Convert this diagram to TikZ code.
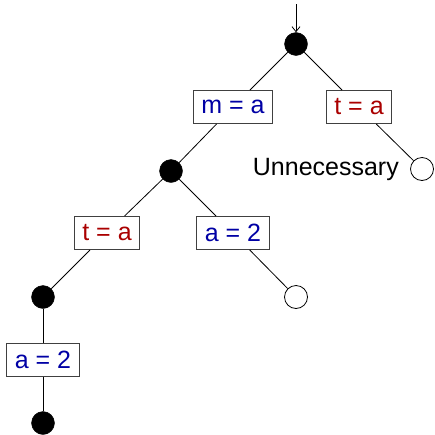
\documentclass[tikz,border=0pt]{standalone}
\usepackage{fontspec}
\setmainfont{Liberation Sans}
\usetikzlibrary{arrows.meta}
\definecolor{cblue}{RGB}{0,0,165}
\definecolor{cred}{RGB}{170,0,0}
\begin{document}
\begin{tikzpicture}[x=1pt,y=-1pt,
  full/.style={circle,fill=black,draw=black,inner sep=0pt,minimum size=23pt},
  empty/.style={circle,fill=white,draw=black,line width=0.8pt,inner sep=0pt,minimum size=23pt},
  cond/.style={rectangle,draw=black!75,line width=1pt,fill=white,inner xsep=8pt,inner ysep=0pt,minimum height=33pt,font=\fontsize{25}{27}\selectfont},
  bl/.style={cond,text=cblue},
  rd/.style={cond,text=cred},
  edge/.style={draw=black,line width=0.8pt}]
\useasboundingbox (0,0) rectangle (435,434);
\node[full] (r) at (296,44) {};
\coordinate (top) at (296,4);
\node[bl] (ma) at (233,107) {m = a};
\node[rd] (ta1) at (359,107) {t = a};
\node[empty] (o1) at (422,169) {};
\node[anchor=east,font=\fontsize{25}{27}\selectfont,inner sep=0pt] (un) at (399,169) {Unnecessary};
\node[full] (n2) at (171,171) {};
\node[rd] (ta2) at (107,233) {t = a};
\node[bl] (a2a) at (233,233) {a = 2};
\node[full] (n3) at (43,297) {};
\node[empty] (o2) at (296,297) {};
\node[bl] (a2b) at (43,360) {a = 2};
\node[full] (n4) at (43,423) {};
\draw[edge,-{Straight Barb[length=5pt,width=8pt]}] (top) -- (r);
\draw[edge] (r) -- (ma);
\draw[edge] (r) -- (ta1);
\draw[edge] (ta1) -- (o1);
\draw[edge] (ma) -- (n2);
\draw[edge] (n2) -- (ta2);
\draw[edge] (n2) -- (a2a);
\draw[edge] (ta2) -- (n3);
\draw[edge] (a2a) -- (o2);
\draw[edge] (n3) -- (a2b);
\draw[edge] (a2b) -- (n4);
\end{tikzpicture}
\end{document}
